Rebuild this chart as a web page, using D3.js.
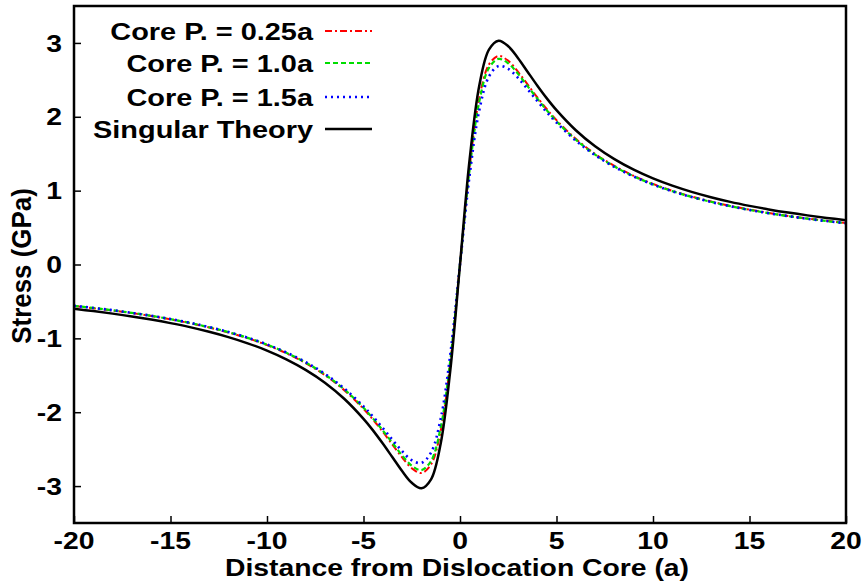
<!DOCTYPE html>
<html><head><meta charset="utf-8">
<script src="https://cdn.jsdelivr.net/npm/d3@7"></script>
<style>body{margin:0;background:#fff}svg{display:block}text{font-family:"Liberation Sans",Arial,sans-serif;font-weight:bold}</style>
</head><body><svg id="c" width="868" height="584"></svg>
<script>
const xs = [-20,-19,-18,-17,-16,-15,-14,-13,-12,-11,-10,-9,-8,-7,-6,-5,-4.5,-4,-3.5,-3,-2.5,-2,-1.5,-1,-0.5,0,0.5,1,1.5,2,2.5,3,3.5,4,4.5,5,6,7,8,9,10,11,12,13,14,15,16,17,18,19,20];
const core025 = [-0.562,-0.591,-0.623,-0.658,-0.698,-0.743,-0.794,-0.853,-0.920,-0.998,-1.091,-1.201,-1.335,-1.498,-1.701,-1.954,-2.103,-2.265,-2.439,-2.611,-2.758,-2.823,-2.707,-2.252,-1.323,0,1.323,2.252,2.707,2.823,2.758,2.611,2.439,2.265,2.103,1.954,1.701,1.498,1.335,1.201,1.091,0.998,0.920,0.853,0.794,0.743,0.698,0.658,0.623,0.591,0.562];
const core10 = [-0.559,-0.588,-0.620,-0.655,-0.695,-0.740,-0.791,-0.849,-0.915,-0.993,-1.085,-1.195,-1.327,-1.489,-1.690,-1.940,-2.087,-2.247,-2.416,-2.584,-2.724,-2.783,-2.661,-2.207,-1.293,0,1.293,2.207,2.661,2.783,2.724,2.584,2.416,2.247,2.087,1.940,1.690,1.489,1.327,1.195,1.085,0.993,0.915,0.849,0.791,0.740,0.695,0.655,0.620,0.588,0.559];
const core15 = [-0.559,-0.588,-0.619,-0.655,-0.694,-0.739,-0.789,-0.847,-0.914,-0.991,-1.082,-1.191,-1.321,-1.481,-1.678,-1.921,-2.062,-2.215,-2.374,-2.528,-2.650,-2.687,-2.545,-2.089,-1.212,0,1.212,2.089,2.545,2.687,2.650,2.528,2.374,2.215,2.062,1.921,1.678,1.481,1.321,1.191,1.082,0.991,0.914,0.847,0.789,0.739,0.694,0.655,0.619,0.588,0.559];
const singular = [-0.600,-0.631,-0.665,-0.703,-0.746,-0.794,-0.848,-0.911,-0.983,-1.067,-1.165,-1.283,-1.426,-1.600,-1.818,-2.090,-2.249,-2.424,-2.610,-2.797,-2.956,-3.030,-2.909,-2.424,-1.426,0,1.426,2.424,2.909,3.030,2.956,2.797,2.610,2.424,2.249,2.090,1.818,1.600,1.426,1.283,1.165,1.067,0.983,0.911,0.848,0.794,0.746,0.703,0.665,0.631,0.600];
const xTicks = [-20,-15,-10,-5,0,5,10,15,20];
const yTicks = [-3,-2,-1,0,1,2,3];
const seriesNames = ["Core P. = 0.25a","Core P. = 1.0a","Core P. = 1.5a","Singular Theory"];
const seriesColors = ["#ff0000","#00dd00","#0000ff","#000000"];
const seriesDash = ["7,3,2,3","5,3","2,4",null];
const seriesWidth = [2,2.2,2.6,2.5];
const seriesData = [core025, core10, core15, singular];

const SX = 1.18; // horizontal stretch of the lettering
const svg = d3.select("#c");
const L=74, R=846, T=6, B=523;
const x = d3.scaleLinear().domain([-20,20]).range([L,R]);
const y = d3.scaleLinear().domain([-3.5,3.5]).range([B,T]);

function label(px, py, str, size, anchor, dy){
  return svg.append("text").attr("transform",`translate(${px},${py}) scale(${SX},1)`)
    .attr("text-anchor",anchor).attr("dy",dy||0).attr("font-size",size).attr("fill","#000").text(str);
}

// ticks inward, labels drawn separately
const gx = svg.append("g").attr("transform",`translate(0,${B})`)
  .call(d3.axisBottom(x).tickValues(xTicks).tickSize(-7).tickFormat(""));
const gy = svg.append("g").attr("transform",`translate(${L},0)`)
  .call(d3.axisLeft(y).tickValues(yTicks).tickSize(-7).tickFormat(""));
[gx,gy].forEach(g=>{
  g.select(".domain").remove();
  g.selectAll(".tick line").attr("stroke","#000").attr("stroke-width",1.5);
  g.selectAll(".tick text").remove();
});
xTicks.forEach(v=> label(x(v), 548.5, String(v), 24, "middle"));
yTicks.forEach(v=> label(L-12, y(v), String(v), 24, "end", "0.36em"));

const line = d3.line().x((d,i)=>x(xs[i])).y(d=>y(d)).curve(d3.curveCatmullRom.alpha(0.5));
seriesData.forEach((arr,k)=>{
  svg.append("path").attr("d",line(arr)).attr("fill","none")
    .attr("stroke",seriesColors[k]).attr("stroke-width",seriesWidth[k])
    .attr("stroke-dasharray",seriesDash[k]);
});

svg.append("rect").attr("x",L).attr("y",T).attr("width",R-L).attr("height",B-T)
  .attr("fill","none").attr("stroke","#000").attr("stroke-width",2.5);

// legend
const legY = [31,63,97,129];
seriesNames.forEach((n,k)=>{
  label(313, legY[k], n, 24.5, "end", "0.36em");
  svg.append("line").attr("x1",325).attr("x2",372).attr("y1",legY[k]).attr("y2",legY[k])
    .attr("stroke",seriesColors[k]).attr("stroke-width",seriesWidth[k]).attr("stroke-dasharray",seriesDash[k]);
});

label(457, 575.5, "Distance from Dislocation Core (a)", 24, "middle");
svg.append("text").attr("transform",`translate(31,266) rotate(-90) scale(1.08,1.15)`)
  .attr("text-anchor","middle").attr("font-size",24).attr("fill","#000").text("Stress (GPa)");
</script></body></html>
